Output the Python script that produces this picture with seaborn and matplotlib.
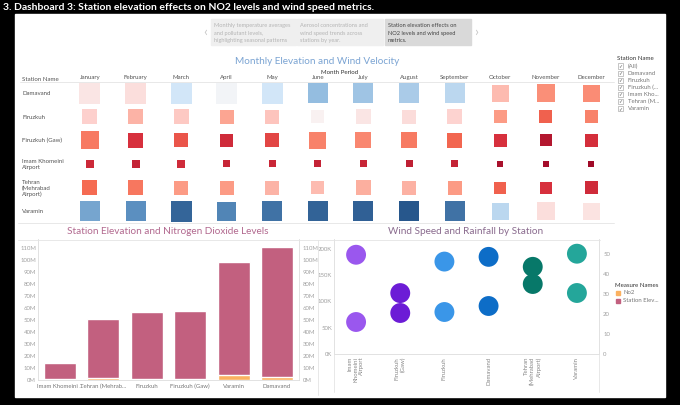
import numpy as np
import pandas as pd
import matplotlib
matplotlib.use('Agg')
import matplotlib.pyplot as plt
import seaborn as sns
from matplotlib.colors import LinearSegmentedColormap
from matplotlib.patches import Rectangle
from matplotlib.lines import Line2D
from matplotlib.ticker import FuncFormatter

# ---- data ----
months = ['January', 'February', 'March', 'April', 'May', 'June', 'July',
          'August', 'September', 'October', 'November', 'December']
hm_stations = ['Damavand', 'Firuzkuh', 'Firuzkuh (Gaw)', 'Imam Khomeini\nAirport',
               'Tehran\n(Mehrabad\nAirport)', 'Varamin']

# wind velocity colour value (-1 = red end, +1 = blue end)
wind_color = [
    [-0.06, -0.08, 0.12, 0.02, 0.12, 0.34, 0.30, 0.26, 0.20, -0.20, -0.34, -0.35],
    [-0.13, -0.22, -0.15, -0.27, -0.17, -0.02, -0.06, -0.09, -0.12, -0.30, -0.50, -0.38],
    [-0.40, -0.72, -0.55, -0.76, -0.62, -0.38, -0.36, -0.40, -0.47, -0.72, -0.90, -0.74],
    [-0.78, -0.82, -0.76, -0.80, -0.79, -0.82, -0.80, -0.84, -0.82, -0.95, -0.97, -1.00],
    [-0.45, -0.41, -0.30, -0.30, -0.22, -0.20, -0.24, -0.23, -0.30, -0.50, -0.72, -0.76],
    [0.45, 0.55, 0.85, 0.62, 0.75, 0.86, 0.88, 0.95, 0.75, 0.20, -0.08, -0.07],
]
# elevation index (drives square size)
elev_index = [
    [21, 21, 21, 21, 21, 20, 20, 20, 20, 17, 18, 17],
    [15, 15, 15, 14, 14, 13, 15, 14, 15, 13, 13, 13],
    [18, 15, 14, 13, 14, 17, 16, 16, 15, 13, 12, 13],
    [8, 8, 8, 7, 7, 7, 7, 7, 7, 6, 6, 6],
    [15, 15, 14, 14, 14, 13, 15, 14, 14, 12, 12, 13],
    [20, 20, 21, 19, 20, 20, 20, 20, 20, 17, 18, 17],
]

bar_stations = ['Imam Khomeini ...', 'Tehran (Mehrab...', 'Firuzkuh', 'Firuzkuh (Gaw)',
                'Varamin', 'Damavand']
elev_m = [13.4, 49.4, 55.9, 57.0, 94.1, 108.6]
no2_m = [0.5, 1.7, 1.0, 0.8, 4.2, 2.5]

sc_stations = ['Imam\nKhomeini\nAirport', 'Firuzkuh\n(Gaw)', 'Firuzkuh', 'Damavand',
               'Tehran\n(Mehrabad\nAirport)', 'Varamin']
rain_k = [189, 116, 176, 185, 166, 191]
wind_speed = [16, 20.5, 21, 24, 35, 30.5]
sc_colors = ['#9a57ee', '#6c1cd6', '#3a96e8', '#0d6dc7', '#077869', '#24a69a']

legend_names = ['(All)', 'Damavand', 'Firuzkuh', 'Firuzkuh (...', 'Imam Kho...',
                'Tehran (M...', 'Varamin']

# ---- figure ----
sns.set_theme(style='white')
plt.rcParams['font.family'] = ['Lato', 'DejaVu Sans']
W, H = 680, 405
fig = plt.figure(figsize=(6.8, 4.05), dpi=100, facecolor='black')


def fx(x):
    return x / W


def fy(y):
    return 1 - y / H


def hline(y, x0, x1, c='#e4e4e4'):
    fig.add_artist(Line2D([fx(x0), fx(x1)], [fy(y), fy(y)], color=c, lw=0.6))


def vline(x, y0, y1, c='#e4e4e4'):
    fig.add_artist(Line2D([fx(x), fx(x)], [fy(y0), fy(y1)], color=c, lw=0.6))


fig.add_artist(Rectangle((fx(15), fy(397)), fx(650), 383 / H, color='white', zorder=0))
fig.text(fx(3), fy(7), '3. Dashboard 3: Station elevation effects on NO2 levels and wind speed metrics.',
         color='white', weight='bold', size=7.5, va='center', family='Lato')

# story navigation boxes
nav = [
    ['Monthly temperature averages', 'and pollutant levels,', 'highlighting seasonal patterns'],
    ['Aerosol concentrations and', 'wind speed trends across', 'stations by year.'],
    ['Station elevation effects on', 'NO2 levels and wind speed', 'metrics.'],
]
for i, (x0, x1) in enumerate([(211, 296), (297, 383), (385, 471)]):
    fc = '#d9d9d9' if i == 2 else '#efefef'
    tc = '#444444' if i == 2 else '#b4b4b4'
    fig.add_artist(Rectangle((fx(x0), fy(45)), fx(x1 - x0), 26 / H, color=fc, zorder=1))
    for j, line in enumerate(nav[i]):
        fig.text(fx(x0 + 3), fy(25.7 + j * 7.5), line, size=4.1, color=tc, va='center')
fig.text(fx(205), fy(32), '‹', size=10, color='#c8c8c8', ha='center', va='center')
fig.text(fx(476), fy(32), '›', size=10, color='#c8c8c8', ha='center', va='center')

# ---- monthly square map ----
rows = []
for r, st in enumerate(hm_stations):
    for c, m in enumerate(months):
        rows.append({'row': r, 'col': c, 'color': wind_color[r][c],
                     'area': (elev_index[r][c] * 0.72) ** 2})
hm = pd.DataFrame(rows)

cmap = LinearSegmentedColormap.from_list('tab_rdbu', [
    (0.0, '#a00a28'), (0.14, '#d8313d'), (0.275, '#f56b52'), (0.35, '#fc9c86'),
    (0.435, '#fdd0cd'), (0.5, '#f8f7f7'), (0.56, '#d2e6f8'), (0.67, '#94bde0'),
    (0.775, '#5b8fc0'), (0.975, '#27578c'), (1.0, '#245086')])

ax = fig.add_axes([fx(67.2), fy(222.8), 546.9 / W, 141.2 / H])
amin, amax = hm['area'].min(), hm['area'].max()
sns.scatterplot(data=hm, x='col', y='row', hue='color', size='area', palette=cmap,
                hue_norm=(-1, 1), sizes=(amin, amax), size_norm=(amin, amax),
                marker='s', linewidth=0, legend=False, ax=ax)
ax.set_xlim(-0.5, 11.5)
ax.set_ylim(5.5, -0.5)
ax.set_facecolor('white')
for s in ax.spines.values():
    s.set_visible(False)
ax.xaxis.tick_top()
ax.set_xticks(range(len(months)), months)
ax.set_yticks(range(len(hm_stations)), hm_stations)
ax.tick_params(axis='x', length=0, pad=1.2, labelsize=4.4, labelcolor='#555555')
ax.tick_params(axis='y', length=0, pad=32.5, labelsize=4.4, labelcolor='#555555')
for t in ax.get_yticklabels():
    t.set_horizontalalignment('left')
    t.set_multialignment('left')
ax.set_xlabel('')
ax.set_ylabel('')
fig.text(fx(22.5), fy(79.3), 'Station Name', size=4.4, color='#555555', va='center')
fig.text(fx(340), fy(72.7), 'Month Period', size=4.4, color='#333333', va='center', ha='center')
fig.text(fx(317.5), fy(61.7), 'Monthly Elevation and Wind Velocity', size=7.2,
         color='#7ba4d3', ha='center', va='center')
hline(82, 20, 614)
hline(223, 18, 614)

# station name legend
fig.text(fx(617), fy(59), 'Station Name', size=4.4, color='#333333', va='center')
for i, name in enumerate(legend_names):
    yy = 66 + i * 7.1
    fig.add_artist(Rectangle((fx(617.5), fy(yy + 2.5)), fx(5), 5 / H, fill=False,
                             ec='#9a9a9a', lw=0.4))
    fig.text(fx(620), fy(yy - 0.3), '✓', size=3.5, color='#555555', ha='center', va='center',
             family='DejaVu Sans')
    fig.text(fx(628), fy(yy), name, size=4.3, color='#777777', va='center')

# ---- stacked bar chart ----
bars = pd.DataFrame({'station': bar_stations, 'elev': elev_m, 'no2': no2_m})
bars['total'] = bars['elev'] + bars['no2']
axb = fig.add_axes([fx(38.3), fy(380), 260.4 / W, 141 / H])
sns.barplot(data=bars, x='station', y='total', color='#c2607f', saturation=1, width=0.74, ax=axb)
sns.barplot(data=bars, x='station', y='no2', color='#fbb160', saturation=1, width=0.74, ax=axb)
axb.set_ylim(0, 117.5)
axb.set_xlim(-0.5, 5.5)
yt = np.arange(0, 111, 10)
mfmt = FuncFormatter(lambda v, p: f'{v:.0f}M')
axb.set_yticks(yt)
axb.yaxis.set_major_formatter(mfmt)
axb.set_xlabel('')
axb.set_ylabel('')
axb.tick_params(axis='y', length=0, pad=1.5, labelsize=4.3, labelcolor='#a0a0a0')
axb.tick_params(axis='x', length=0, pad=3, labelsize=4.3, labelcolor='#777777')
for s in ['top', 'right']:
    axb.spines[s].set_visible(False)
for s in ['left', 'bottom']:
    axb.spines[s].set_color('#dddddd')
    axb.spines[s].set_linewidth(0.6)
axr = axb.twinx()
axr.set_ylim(axb.get_ylim())
axr.set_yticks(yt)
axr.yaxis.set_major_formatter(mfmt)
axr.tick_params(axis='y', length=0, pad=3, labelsize=4.3, labelcolor='#a0a0a0')
for s in axr.spines.values():
    s.set_visible(False)
axr.spines['right'].set_visible(True)
axr.spines['right'].set_color('#dddddd')
axr.spines['right'].set_linewidth(0.6)
fig.text(fx(168), fy(231.7), 'Station Elevation and Nitrogen Dioxide Levels', size=7.2,
         color='#b2698f', ha='center', va='center')

# ---- wind speed and rainfall ----
sc = pd.DataFrame({'pos': range(len(sc_stations)), 'station': sc_stations,
                   'rain': [v * 1000 for v in rain_k], 'wind': wind_speed})
axs = fig.add_axes([fx(334), fy(354), 265 / W, 115 / H])
sns.scatterplot(data=sc, x='pos', y='rain', hue='station', palette=sc_colors, s=205,
                linewidth=0, alpha=1, legend=False, ax=axs)
axs.set_ylim(0, 219000)
axs.set_xlim(-0.5, 5.5)
axs.set_yticks(np.arange(0, 200001, 50000))
axs.yaxis.set_major_formatter(FuncFormatter(lambda v, p: f'{v / 1000:.0f}K'))
axs.set_xticks(range(len(sc_stations)), sc_stations, rotation=90, va='top', ha='center')
for t in axs.get_xticklabels():
    t.set_multialignment('right')
axs.tick_params(axis='y', length=0, pad=1.5, labelsize=4.3, labelcolor='#a0a0a0')
axs.tick_params(axis='x', length=0, pad=2, labelsize=4.3, labelcolor='#888888')
axs.set_xlabel('')
axs.set_ylabel('')
for s in ['top', 'right']:
    axs.spines[s].set_visible(False)
for s in ['left', 'bottom']:
    axs.spines[s].set_color('#dddddd')
    axs.spines[s].set_linewidth(0.6)
axs2 = axs.twinx()
sns.scatterplot(data=sc, x='pos', y='wind', hue='station', palette=sc_colors, s=205,
                linewidth=0, alpha=1, legend=False, ax=axs2)
axs2.set_ylim(0, 57.5)
axs2.set_yticks(np.arange(0, 51, 10))
axs2.set_ylabel('')
axs2.tick_params(axis='y', length=0, pad=3, labelsize=4.3, labelcolor='#a0a0a0')
for s in axs2.spines.values():
    s.set_visible(False)
axs2.spines['right'].set_visible(True)
axs2.spines['right'].set_color('#dddddd')
axs2.spines['right'].set_linewidth(0.6)
fig.text(fx(466), fy(231.7), 'Wind Speed and Rainfall by Station', size=7.2,
         color='#8a6b8e', ha='center', va='center')

hline(240, 18, 600)
vline(318, 240, 395)
vline(333.5, 354, 392)
vline(599, 354, 392)

# measure names legend
fig.text(fx(615), fy(285.7), 'Measure Names', size=4.4, color='#333333', va='center')
for i, (name, col) in enumerate([('No2', '#fbb160'), ('Station Elev...', '#c2607f')]):
    yy = 293 + i * 7.7
    fig.add_artist(Rectangle((fx(616), fy(yy + 2)), fx(4), 4 / H, color=col))
    fig.text(fx(623), fy(yy), name, size=4.3, color='#777777', va='center')

fig.savefig('out.png', dpi=100, facecolor='black')
